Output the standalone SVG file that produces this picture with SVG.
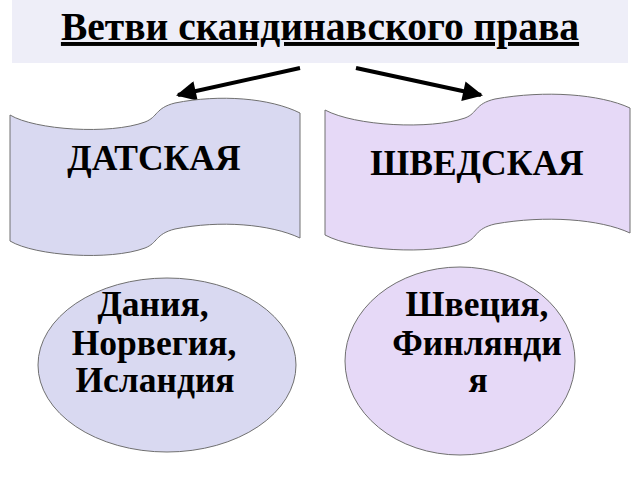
<svg xmlns="http://www.w3.org/2000/svg" width="640" height="480" viewBox="0 0 640 480">
<style>
  .t{font-family:'Liberation Serif','DejaVu Serif',serif;font-weight:bold;fill:#000;text-anchor:middle}
  .sh{stroke:#707070;stroke-width:1}
  .blue{fill:#d9d9f1}
  .pink{fill:#e6d9f7}
  .arr{stroke:#000;stroke-width:4;fill:none;marker-end:url(#ah)}
</style>
<defs>
  <marker id="ah" viewBox="0 0 10 10" refX="9" refY="5" markerWidth="6" markerHeight="5" markerUnits="strokeWidth" orient="auto">
    <path d="M0,0 L10,5 L0,10 Z" fill="#000"/>
  </marker>
</defs>
<rect width="640" height="480" fill="#fff"/>
<g id="title">
  <rect x="12" y="0" width="616" height="63" fill="#eeeef8"/>
  <text class="t" x="320" y="40" font-size="39.5" text-decoration="underline">Ветви скандинавского права</text>
</g>
<g id="connectors">
  <line class="arr" x1="300" y1="68" x2="178" y2="95"/>
  <line class="arr" x1="356" y1="68" x2="481" y2="95"/>
</g>
<g id="danish">
  <path class="sh blue" d="M10,115 C35,130 110,135 145,122 C158,117 155,108 175,103 C220,94 270,98 300,113 L300,238 C270,224 220,220 175,229 C155,234 158,243 145,248 C110,261 35,256 10,241 Z"/>
  <text class="t" x="154" y="170" font-size="35.5">ДАТСКАЯ</text>
</g>
<g id="swedish">
  <path class="sh pink" d="M325,110 C355,126 430,130 465,118 C478,113 474,104 495,99 C545,90 600,94 630,108 L630,233 C600,219 545,215 495,224 C474,229 478,238 465,243 C430,255 355,251 325,235 Z"/>
  <text class="t" x="477" y="175" font-size="35.5">ШВЕДСКАЯ</text>
</g>
<g id="danish-countries">
  <ellipse class="sh blue" cx="167" cy="365" rx="129" ry="87"/>
  <text class="t" font-size="35.5"><tspan x="153" y="316">Дания,</tspan><tspan x="154" y="355">Норвегия,</tspan><tspan x="155" y="392">Исландия</tspan></text>
</g>
<g id="swedish-countries">
  <ellipse class="sh pink" cx="460" cy="361" rx="115" ry="94"/>
  <text class="t" font-size="35.5"><tspan x="477" y="316">Швеция,</tspan><tspan x="477" y="355">Финлянди</tspan><tspan x="478" y="392">я</tspan></text>
</g>
</svg>
